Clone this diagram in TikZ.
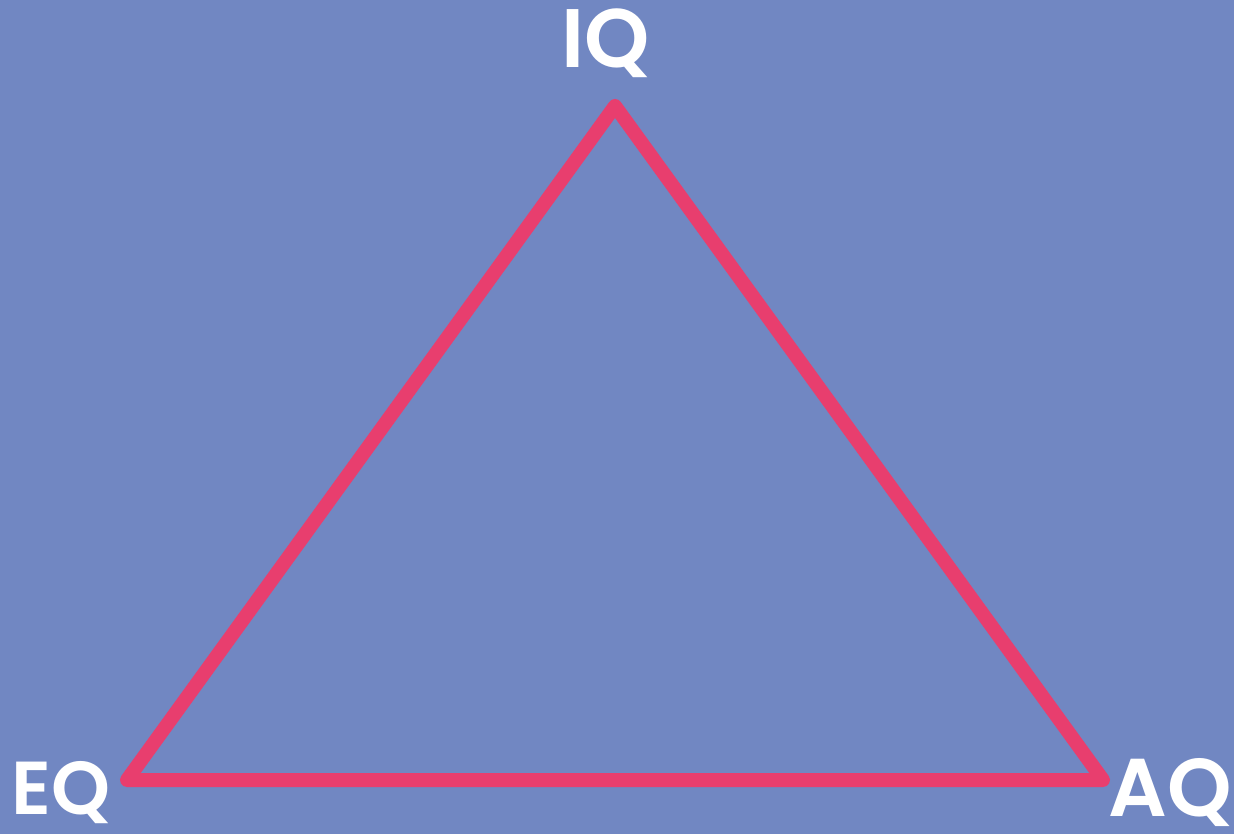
\documentclass[tikz,border=0pt]{standalone}
\usepackage{fontspec}
\setmainfont{Poppins}[UprightFont=* SemiBold, BoldFont=* SemiBold]
\definecolor{bgblue}{RGB}{113,135,194}
\definecolor{tripink}{RGB}{232,62,110}
\begin{document}
\begin{tikzpicture}[x=1pt,y=-1pt,
  lbl/.style={text=white, inner sep=0pt, anchor=base},
  edge/.style={draw=tripink, line width=14pt, line join=round, line cap=round}]
\fill[bgblue] (0,0) rectangle (1234,834);
\useasboundingbox (0,0) rectangle (1234,834);
\coordinate (top) at (615,106);
\coordinate (left) at (127,780);
\coordinate (right) at (1103,780);
\draw[edge] (top) -- (right) -- (left) -- cycle;
\node[lbl, font=\fontsize{83}{83}\selectfont] (iq) at (606,68) {IQ};
\node[lbl, font=\fontsize{75}{75}\selectfont] (eq) at (61,814) {EQ};
\node[lbl, font=\fontsize{82}{82}\selectfont] (aq) at (1170,816) {AQ};
\end{tikzpicture}
\end{document}
